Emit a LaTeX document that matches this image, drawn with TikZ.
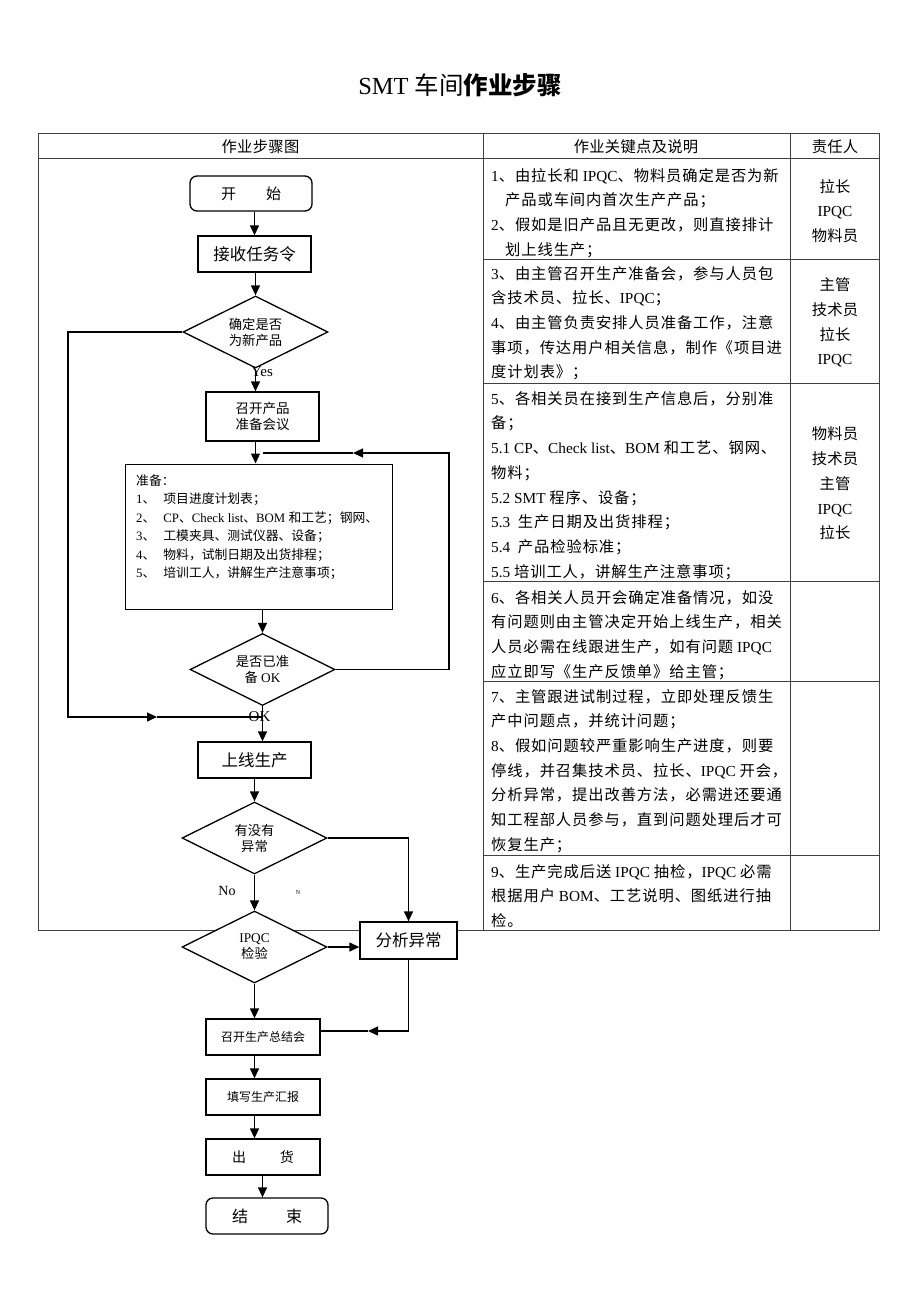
\documentclass[tikz,border=0pt]{standalone}
\usepackage{fontspec}
\setmainfont{Liberation Serif}
\newfontfamily\cjk{Noto Sans CJK SC}
% switch to the CJK font for Chinese characters
\XeTeXinterchartokenstate=1
\chardef\cjkcls=11
\newcount\cjkn
\newdimen\cjkgap \cjkgap=0pt
\def\cjkrange#1#2{\cjkn=#1\relax\loop\ifnum\cjkn<#2\relax\XeTeXcharclass\cjkn=\cjkcls\advance\cjkn by 1\relax\repeat}
\cjkrange{"3000}{"3040}
\cjkrange{"4E00}{"A000}
\cjkrange{"FF00}{"FFF0}
\XeTeXinterchartoks 0 \cjkcls = {\begingroup\cjk}
\XeTeXinterchartoks 4095 \cjkcls = {\begingroup\cjk}
\XeTeXinterchartoks \cjkcls 0 = {\endgroup}
\XeTeXinterchartoks \cjkcls 4095 = {\endgroup}
\XeTeXinterchartoks \cjkcls \cjkcls = {\hskip\cjkgap\relax}
\usetikzlibrary{shapes.geometric,arrows.meta}
\newcommand{\fsz}[2]{\fontsize{#1}{#2}\selectfont}
\tikzset{
  stepbox/.style={draw, fill=white, line width=1.3pt, minimum width=113pt, minimum height=36pt, inner sep=1pt, align=center},
  roundbox/.style={stepbox, rounded corners=7pt},
  choice/.style={draw, fill=white, diamond, aspect=2, line width=1.3pt, minimum width=145pt, minimum height=72pt, inner sep=0pt, align=center, font=\fsz{13.3}{16}},
  flow/.style={->, line width=1.3pt},
  cell/.style={anchor=north west, align=left, inner sep=0pt, font={\fsz{15.3}{24.7}\cjkgap=0.9pt}},
  who/.style={align=center, inner sep=0pt, font={\fsz{15.3}{24.7}\cjkgap=0.3pt}},
  grid/.style={line width=0.9pt, draw=black!75},
}
\begin{document}
\begin{tikzpicture}[x=1pt, y=-1pt, >={Triangle[length=10pt,width=9pt]}]
    \useasboundingbox (0,0) rectangle (920,1302);
    \node[font=\fsz{24.5}{28}] (title) at (460,85) {SMT 车间\textbf{作业步骤}};

    % table
    \draw[grid] (38,133) rectangle (879,930);
    \draw[grid] (38,158) -- (879,158);
    \draw[grid] (483,133) -- (483,930);
    \draw[grid] (790.5,133) -- (790.5,930);
    \foreach \y in {259,383,581,681,855}
        \draw[grid] (483,\y) -- (879,\y);

    \node[who] (hdflow) at (260.5,147) {作业步骤图};
    \node[who] (hdkey) at (636,147) {作业关键点及说明};
    \node[who] (hdwho) at (835,147) {责任人};

    \node[cell] (key1) at (491,168) {1、由拉长和 IPQC、物料员确定是否为新\\\hspace*{14pt}产品或车间内首次生产产品；\\2、假如是旧产品且无更改，则直接排计\\\hspace*{14pt}划上线生产；};
    \node[cell] (key2) at (491,266) {3、由主管召开生产准备会，参与人员包\\含技术员、拉长、IPQC；\\4、由主管负责安排人员准备工作，注意\\事项，传达用户相关信息，制作《项目进\\度计划表》；};
    \node[cell] (key3) at (491,391) {5、各相关员在接到生产信息后，分别准\\备；\\5.1 CP、Check list、BOM 和工艺、钢网、\\物料；\\5.2 SMT 程序、设备；\\5.3\ \ 生产日期及出货排程；\\5.4\ \ 产品检验标准；\\5.5 培训工人，讲解生产注意事项；};
    \node[cell] (key4) at (491,590) {6、各相关人员开会确定准备情况，如没\\有问题则由主管决定开始上线生产，相关\\人员必需在线跟进生产，如有问题 IPQC\\应立即写《生产反馈单》给主管；};
    \node[cell] (key5) at (491,689) {7、主管跟进试制过程，立即处理反馈生\\产中问题点，并统计问题；\\8、假如问题较严重影响生产进度，则要\\停线，并召集技术员、拉长、IPQC 开会，\\分析异常，提出改善方法，必需进还要通\\知工程部人员参与，直到问题处理后才可\\恢复生产；};
    \node[cell] (key6) at (491,864) {9、生产完成后送 IPQC 抽检，IPQC 必需\\根据用户 BOM、工艺说明、图纸进行抽\\检。};

    \node[who] (who1) at (835,211) {拉长\\IPQC\\物料员};
    \node[who] (who2) at (835,322.5) {主管\\技术员\\拉长\\IPQC};
    \node[who] (who3) at (835,483.5) {物料员\\技术员\\主管\\IPQC\\拉长};

    % flow chart
    \node[roundbox, minimum width=122pt, minimum height=35pt, font=\fsz{15}{18}] (start) at (251,193.5) {开　　始};
    \node[stepbox, font=\fsz{16.5}{20}] (task) at (254.5,254) {接收任务令};
    \node[choice] (isnew) at (255.5,332) {确定是否\\为新产品};
    \node[stepbox, minimum height=49pt, font=\fsz{13.5}{16.5}] (meet) at (262.5,416.5) {召开产品\\准备会议};
    \node[stepbox, line width=1pt, minimum width=267pt, minimum height=145pt] (prep) at (258.5,536.5) {};
    \node[anchor=north west, align=left, inner sep=0pt, font=\fsz{12.8}{18.5}] (preptxt) at (136,474.5) {准备：\\1、\hspace{8pt}项目进度计划表；\\2、\hspace{8pt}CP、Check list、BOM 和工艺；钢网、\\3、\hspace{8pt}工模夹具、测试仪器、设备；\\4、\hspace{8pt}物料，试制日期及出货排程；\\5、\hspace{8pt}培训工人，讲解生产注意事项；};
    \node[choice] (ready) at (262.5,669.5) {是否已准\\备 OK};
    \node[stepbox, font=\fsz{16.5}{20}] (online) at (254.5,760) {上线生产};
    \node[choice] (abn) at (254.5,838) {有没有\\异常};
    \node[choice] (ipqc) at (254.5,947) {IPQC\\检验};
    \node[stepbox, minimum width=97pt, minimum height=37pt, font=\fsz{16.5}{20}] (anal) at (408.5,940.5) {分析异常};
    \node[stepbox, minimum width=114pt, font=\fsz{12}{15}] (summ) at (263,1037) {召开生产总结会};
    \node[stepbox, minimum width=114pt, font=\fsz{12}{15}] (report) at (263,1097) {填写生产汇报};
    \node[stepbox, minimum width=114pt, font=\fsz{14}{17}] (ship) at (263,1157) {出\hspace{34pt}货};
    \node[roundbox, minimum width=122pt, font=\fsz{16}{19}] (finish) at (267,1216) {结\hspace{38pt}束};

    \coordinate (loopr) at (449,453);
    \coordinate (loopm) at (353,453);
    \coordinate (loopl) at (263,453);
    \coordinate (skipa) at (68,717);
    \coordinate (skipb) at (157,717);
    \coordinate (okpt) at (262.5,717);
    \coordinate (backm) at (368,1031);

    \draw[flow] (task.north |- start.south) -- (task.north);
    \draw[flow] (task.south -| isnew.north) -- (isnew.north);
    \draw[flow] (isnew.south) -- (isnew.south |- meet.north);
    \draw[flow] (isnew.south |- meet.south) -- (isnew.south |- prep.north);
    \draw[flow] (prep.south -| ready.north) -- (ready.north);
    \draw[flow] (ready.east) -| (loopr) -- (loopm);
    \draw[line width=1.3pt] (loopm) -- (loopl);
    \draw[flow] (isnew.west) -| (skipa) -- (skipb);
    \draw[line width=1.3pt] (skipb) -- (okpt);
    \draw[flow] (ready.south) -- (ready.south |- online.north);
    \draw[flow] (online) -- (abn);
    \draw[flow] (abn) -- (ipqc);
    \draw[flow] (abn.east) -| (anal.north);
    \draw[flow] (ipqc.east) -- (ipqc.east -| anal.west);
    \draw[flow] (ipqc.south) -- (ipqc.south |- summ.north);
    \draw[flow] (anal.south) |- (backm);
    \draw[line width=1.3pt] (backm) -- (summ.east |- backm);
    \draw[flow] (ipqc.south |- summ.south) -- (ipqc.south |- report.north);
    \draw[flow] (ipqc.south |- report.south) -- (ipqc.south |- ship.north);
    \draw[flow] (ship.south -| ready.south) -- (ready.south |- finish.north);

    \node[font=\fsz{15}{18}] (yes) at (262,372) {Yes};
    \node[font=\fsz{15}{18}] (ok) at (259.5,717) {OK};
    \node[font=\fsz{14}{17}] (no) at (227,891) {No};
    \node[font=\fsz{6}{7}] (nsmall) at (298,893) {N};
\end{tikzpicture}
\end{document}
